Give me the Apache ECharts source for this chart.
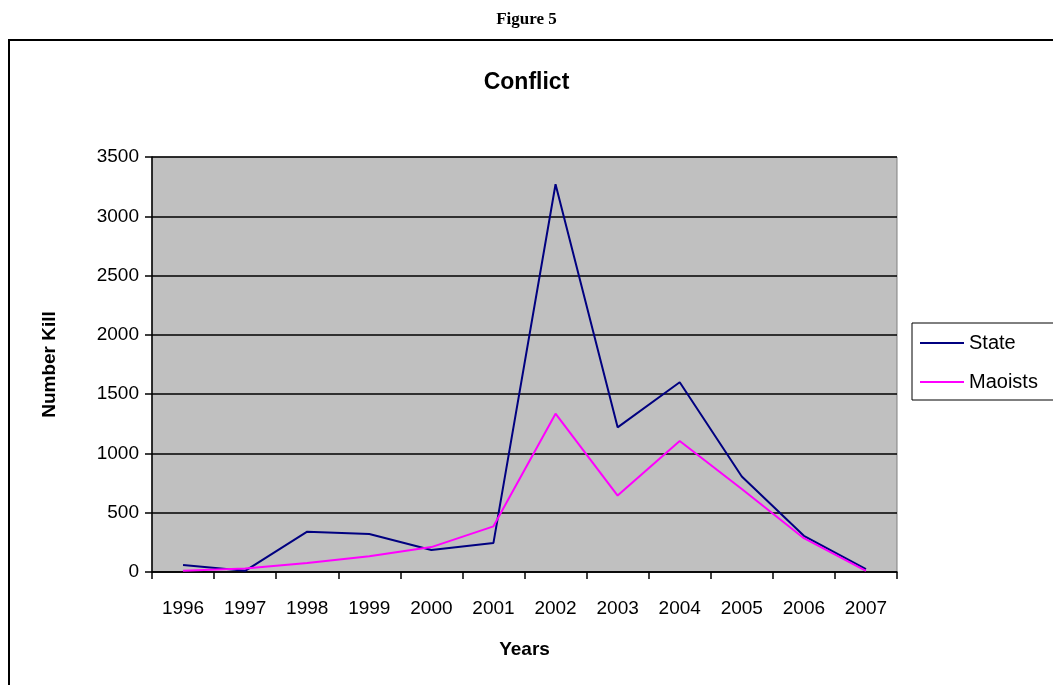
<!DOCTYPE html>
<html>
<head>
<meta charset="utf-8">
<script src="https://cdn.jsdelivr.net/npm/echarts@6/dist/echarts.min.js"></script>
<style>
  html, body { margin: 0; padding: 0; background: #fff; }
  #chart { width: 1053px; height: 685px; }
</style>
</head>
<body>
<div id="chart"></div>
<script>
var years = ['1996', '1997', '1998', '1999', '2000', '2001', '2002', '2003', '2004', '2005', '2006', '2007'];
var stateKilled = [60, 10, 340, 320, 185, 245, 3270, 1220, 1600, 805, 305, 25];
var maoistsKilled = [10, 30, 75, 132, 210, 385, 1335, 645, 1105, 700, 285, 10];

var myChart = echarts.init(document.getElementById('chart'));

var option = {
  backgroundColor: '#fff',
  textStyle: { fontFamily: 'Liberation Sans, Arial, sans-serif' },
  title: [
    {
      text: 'Figure 5',
      left: 'center',
      top: 6,
      textStyle: { fontFamily: 'Liberation Serif, serif', fontWeight: 'bold', fontSize: 17, color: '#000' }
    },
    {
      text: 'Conflict',
      left: 'center',
      top: 66,
      textStyle: { fontWeight: 'bold', fontSize: 23, color: '#000' }
    }
  ],
  graphic: [
    {
      type: 'rect',
      shape: { x: 9, y: 40, width: 1100, height: 700 },
      style: { fill: 'none', stroke: '#000', lineWidth: 2 },
      silent: true
    }
  ],
  legend: {
    orient: 'vertical',
    left: 912,
    top: 323,
    padding: [10, 20, 8, 8],
    itemGap: 19,
    itemWidth: 44,
    itemHeight: 2,
    icon: 'rect',
    borderColor: '#000',
    borderWidth: 1,
    backgroundColor: '#fff',
    textStyle: { fontSize: 20, color: '#000' },
    data: ['State', 'Maoists']
  },
  grid: {
    left: 152,
    right: 156,
    top: 157,
    bottom: 113,
    show: true,
    backgroundColor: '#C0C0C0',
    borderColor: '#808080',
    borderWidth: 1
  },
  xAxis: {
    type: 'category',
    data: years,
    boundaryGap: true,
    name: 'Years',
    nameLocation: 'middle',
    nameGap: 68,
    nameTextStyle: { fontWeight: 'bold', fontSize: 19, color: '#000' },
    axisLine: { lineStyle: { color: '#000', width: 1.5 } },
    axisTick: { show: true, length: 7, interval: 0, lineStyle: { color: '#000', width: 1.5 } },
    axisLabel: { interval: 0, margin: 27, fontSize: 19, color: '#000' },
    splitLine: { show: false }
  },
  yAxis: {
    type: 'value',
    min: 0,
    max: 3500,
    interval: 500,
    name: 'Number Kill',
    nameLocation: 'middle',
    nameGap: 93,
    nameTextStyle: { fontWeight: 'bold', fontSize: 19, color: '#000' },
    axisLine: { show: true, lineStyle: { color: '#000', width: 1.5 } },
    axisTick: { show: true, length: 7, lineStyle: { color: '#000', width: 1.5 } },
    axisLabel: {
      margin: 13,
      fontSize: 19,
      color: '#000',
      formatter: function (v) { return String(v); }
    },
    splitLine: { show: true, lineStyle: { color: '#000', width: 1.5 } }
  },
  series: [
    {
      name: 'State',
      type: 'line',
      data: stateKilled,
      symbol: 'none',
      lineStyle: { color: '#000080', width: 2 },
      itemStyle: { color: '#000080' },
      animation: false
    },
    {
      name: 'Maoists',
      type: 'line',
      data: maoistsKilled,
      symbol: 'none',
      lineStyle: { color: '#FF00FF', width: 2 },
      itemStyle: { color: '#FF00FF' },
      animation: false
    }
  ]
};

myChart.setOption(option);
</script>
</body>
</html>
